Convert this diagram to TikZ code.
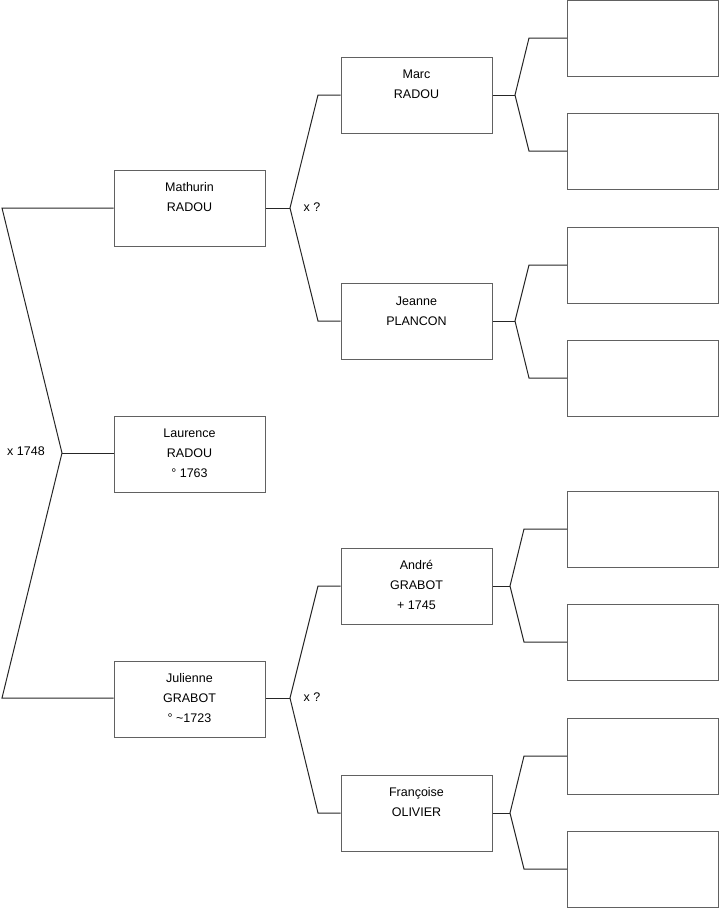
\documentclass[tikz,border=0pt]{standalone}
\usepackage{fontspec}
\setmainfont{Liberation Sans}
\begin{document}
\begin{tikzpicture}[x=1pt,y=-1pt,
  pbox/.style={draw=black!62,line width=1pt,fill=white,minimum width=151pt,minimum height=76pt,inner sep=0pt},
  ptxt/.style={anchor=north,align=center,inner sep=0pt,font=\fontsize{12.5}{20}\selectfont},
  lbl/.style={inner sep=0pt,font=\fontsize{12.5}{15}\selectfont},
  conn/.style={draw=black!85,line width=1pt}]
\useasboundingbox (0,0) rectangle (719,908);
% person boxes
\node[pbox] (mathurin) at (189.5,208) {};
\node[pbox] (laurence) at (189.5,454) {};
\node[pbox] (julienne) at (189.5,699) {};
\node[pbox] (marc) at (416.5,95) {};
\node[pbox] (jeanne) at (416.5,321.5) {};
\node[pbox] (andre) at (416.5,586) {};
\node[pbox] (francoise) at (416.5,813) {};
% empty boxes
\node[pbox] (e1) at (643,38) {};
\node[pbox] (e2) at (643,151) {};
\node[pbox] (e3) at (643,265) {};
\node[pbox] (e4) at (643,378) {};
\node[pbox] (e5) at (643,529) {};
\node[pbox] (e6) at (643,642) {};
\node[pbox] (e7) at (643,756) {};
\node[pbox] (e8) at (643,869) {};
% texts
\node[ptxt] (tmathurin) at ([yshift=-8pt]mathurin.north) {\strut Mathurin\\RADOU};
\node[ptxt] (tlaurence) at ([yshift=-8pt]laurence.north) {\strut Laurence\\RADOU\\° 1763};
\node[ptxt] (tjulienne) at ([yshift=-8pt]julienne.north) {\strut Julienne\\GRABOT\\° \textasciitilde1723};
\node[ptxt] (tmarc) at ([yshift=-8pt]marc.north) {\strut Marc\\RADOU};
\node[ptxt] (tjeanne) at ([yshift=-8pt]jeanne.north) {\strut Jeanne\\PLANCON};
\node[ptxt] (tandre) at ([yshift=-8pt]andre.north) {\strut André\\GRABOT\\+ 1745};
\node[ptxt] (tfrancoise) at ([yshift=-8pt]francoise.north) {\strut Françoise\\OLIVIER};
% junction coordinates
\coordinate (la) at (2,208);
\coordinate (lj) at (62,453);
\coordinate (lb) at (2,698);
\coordinate (mj) at (290,208);
\coordinate (mu) at (318,95);
\coordinate (md) at (318,321);
\coordinate (jj) at (290,698);
\coordinate (ju) at (318,586);
\coordinate (jd) at (318,813);
\coordinate (aj) at (515,95);
\coordinate (au) at (529,38);
\coordinate (ad) at (529,151);
\coordinate (bj) at (515,321);
\coordinate (bu) at (529,265);
\coordinate (bd) at (529,378);
\coordinate (cj) at (510,586);
\coordinate (cu) at (524,529);
\coordinate (cd) at (524,642);
\coordinate (dj) at (510,813);
\coordinate (du) at (524,756);
\coordinate (dd) at (524,869);
% connectors
\draw[conn] (mathurin.west |- la) -- (la) -- (lj) -- (lb) -- (julienne.west |- lb);
\draw[conn] (lj) -- (laurence.west |- lj);
\draw[conn] (mathurin.east) -- (mj);
\draw[conn] (marc.west) -- (mu) -- (mj) -- (md) -- (jeanne.west |- md);
\draw[conn] (julienne.east |- jj) -- (jj);
\draw[conn] (andre.west) -- (ju) -- (jj) -- (jd) -- (francoise.west |- jd);
\draw[conn] (marc.east) -- (aj);
\draw[conn] (e1.west) -- (au) -- (aj) -- (ad) -- (e2.west);
\draw[conn] (jeanne.east |- bj) -- (bj);
\draw[conn] (e3.west) -- (bu) -- (bj) -- (bd) -- (e4.west);
\draw[conn] (andre.east) -- (cj);
\draw[conn] (e5.west) -- (cu) -- (cj) -- (cd) -- (e6.west);
\draw[conn] (francoise.east) -- (dj);
\draw[conn] (e7.west) -- (du) -- (dj) -- (dd) -- (e8.west);
% labels
\node[lbl] (x1748) at (26,451) {x 1748};
\node[lbl] (xq1) at (312,207) {x ?};
\node[lbl] (xq2) at (312,697) {x ?};
\end{tikzpicture}
\end{document}
